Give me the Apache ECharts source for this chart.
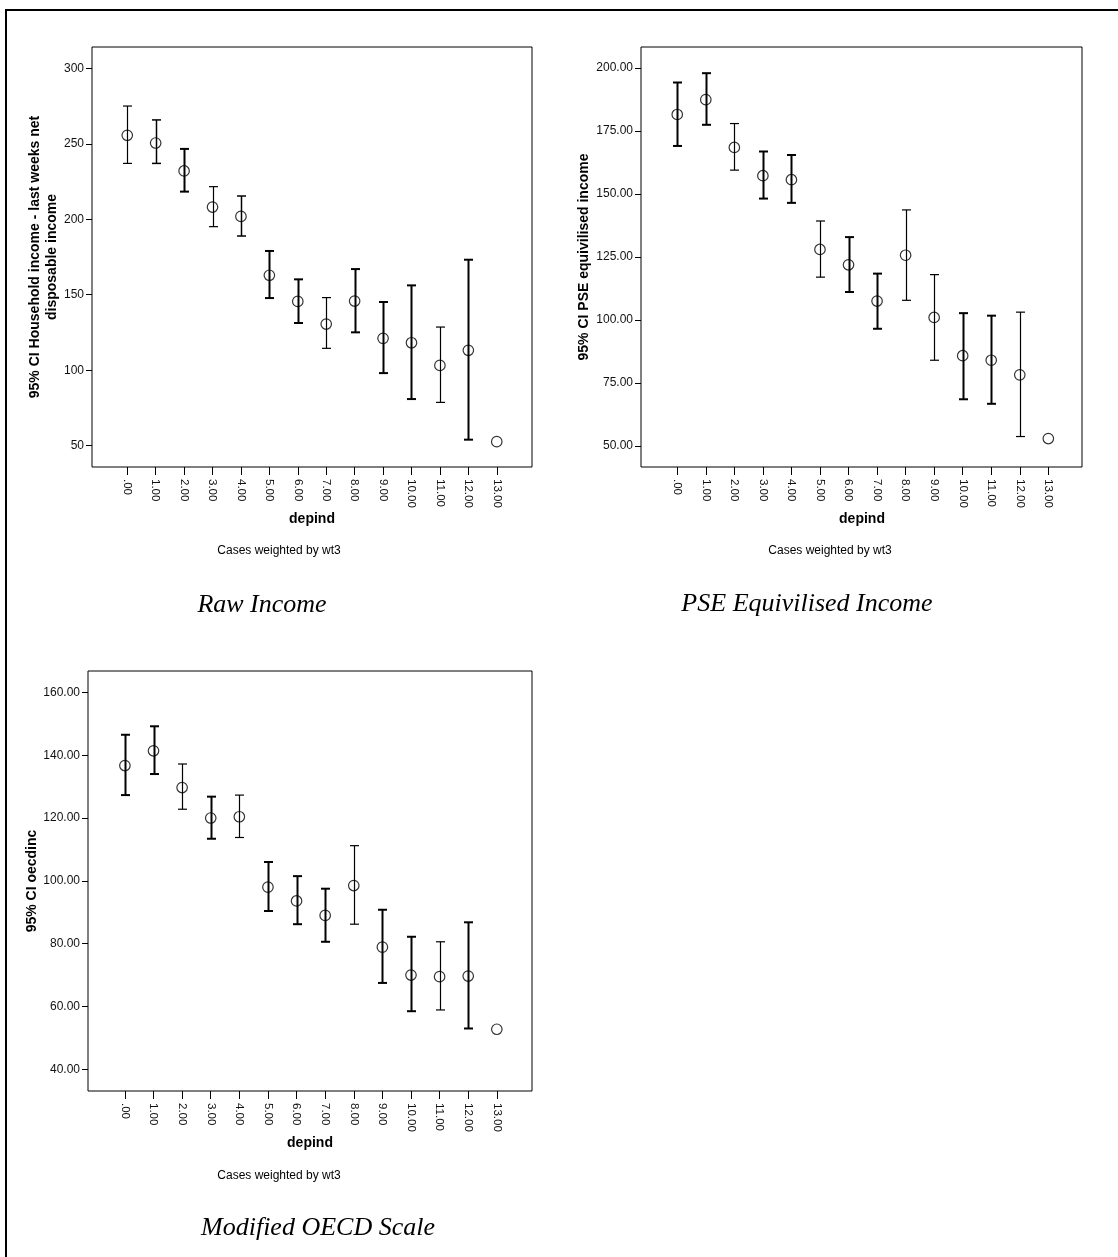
<!DOCTYPE html>
<html>
<head>
<meta charset="utf-8">
<script src="https://cdn.jsdelivr.net/npm/echarts@6/dist/echarts.min.js"></script>
<style>
html,body{margin:0;padding:0;background:#fff;}
#c{width:1118px;height:1257px;}
</style>
</head>
<body>
<div id="c"></div>
<script>
// ---- data ----
var depind = [0,1,2,3,4,5,6,7,8,9,10,11,12,13];
var tickLabels = ['.00','1.00','2.00','3.00','4.00','5.00','6.00','7.00','8.00','9.00','10.00','11.00','12.00','13.00'];

var rawMean  = [255.6, 250.5, 232.0, 208.1, 201.9, 162.9, 145.6, 130.6, 145.8, 121.1, 118.2, 103.2, 113.2, 52.7];
var rawLower = [237.0, 237.0, 218.3, 195.1, 188.9, 147.8, 131.3, 114.5, 125.1,  98.1,  80.9,  78.7,  54.0, null];
var rawUpper = [275.0, 265.8, 246.6, 221.6, 215.4, 179.0, 160.2, 148.1, 167.0, 145.2, 156.2, 128.6, 173.2, null];
var rawTicks = [50, 100, 150, 200, 250, 300];

var pseMean  = [181.6, 187.5, 168.5, 157.3, 155.7, 128.0, 121.9, 107.5, 125.7, 101.0, 85.8, 84.0, 78.2, 52.9];
var pseLower = [169.1, 177.5, 159.5, 148.2, 146.5, 117.0, 111.1,  96.5, 107.8,  84.0, 68.5, 66.7, 53.7, null];
var pseUpper = [194.3, 198.0, 178.0, 166.9, 165.5, 139.3, 132.9, 118.4, 143.7, 118.0, 102.7, 101.7, 103.1, null];
var pseTicks = [50, 75, 100, 125, 150, 175, 200];

var oecdMean  = [136.7, 141.4, 129.7, 120.0, 120.4, 98.0, 93.6, 89.0, 98.5, 78.9, 70.0, 69.5, 69.7, 52.75];
var oecdLower = [127.3, 134.0, 122.8, 113.4, 113.8, 90.4, 86.2, 80.6, 86.2, 67.5, 58.5, 58.9, 53.0, null];
var oecdUpper = [146.5, 149.2, 137.2, 126.8, 127.3, 106.0, 101.5, 97.5, 111.2, 90.8, 82.2, 80.6, 86.8, null];
var oecdTicks = [40, 60, 80, 100, 120, 140, 160];

// ---- styles (stroke weights of the error bars as rendered) ----
var rawW  = [1.2,1.5,2,1.2,1.5,2,2,1.2,2,2,2,1.2,2];
var pseW  = [2,2,1.2,2,2,1.2,2,2,1.2,1.2,2,2,1.2];
var oecdW = [2,2,1.2,2,1.2,2,2,2,1.2,2,2,1.2,2];

var FONT = 'Liberation Sans, Arial, sans-serif';
var SERIF = 'Liberation Serif, Times New Roman, serif';

function barData(lo, hi) {
  var out = [];
  for (var i = 0; i < depind.length; i++) {
    if (lo[i] != null && hi[i] != null) out.push([depind[i], lo[i], hi[i]]);
  }
  return out;
}
function meanData(m) {
  return depind.map(function (d, i) { return [d, m[i]]; });
}
function makeRender(widths) {
  return function (params, api) {
    var x = api.value(0), lo = api.value(1), hi = api.value(2);
    var a = api.coord([x, lo]), b = api.coord([x, hi]);
    var w = widths[params.dataIndex] || 1.2;
    var st = { stroke: '#000', lineWidth: w };
    var cx = Math.round(a[0]) + 0.5;
    return {
      type: 'group',
      children: [
        { type: 'line', shape: { x1: cx, y1: a[1], x2: cx, y2: b[1] }, style: st },
        { type: 'line', shape: { x1: cx - 4.5, y1: a[1], x2: cx + 4.5, y2: a[1] }, style: st },
        { type: 'line', shape: { x1: cx - 4.5, y1: b[1], x2: cx + 4.5, y2: b[1] }, style: st }
      ]
    };
  };
}

var grids = [
  { left: 92, top: 47, width: 440, height: 420 },
  { left: 641, top: 47, width: 441, height: 420 },
  { left: 88, top: 671, width: 444, height: 420 }
];
grids.forEach(function (g) {
  g.show = true; g.borderColor = '#000'; g.borderWidth = 1; g.backgroundColor = '#fff';
});

function xAxis(gi, min, max) {
  return {
    type: 'value', gridIndex: gi, min: min, max: max, position: 'bottom',
    axisLine: { show: false, onZero: false },
    splitLine: { show: false },
    axisTick: { show: true, customValues: depind, length: 8, lineStyle: { color: '#000', width: 1 } },
    axisLabel: {
      customValues: depind, rotate: -90, margin: 12,
      fontFamily: FONT, fontSize: 11.5, color: '#111',
      formatter: function (v) { return tickLabels[Math.round(v)]; }
    }
  };
}
function yAxis(gi, min, max, ticks, dec) {
  return {
    type: 'value', gridIndex: gi, min: min, max: max, position: 'left',
    axisLine: { show: false, onZero: false },
    splitLine: { show: false },
    axisTick: { show: true, customValues: ticks, length: 6, lineStyle: { color: '#000', width: 1 } },
    axisLabel: {
      customValues: ticks, margin: 8,
      fontFamily: FONT, fontSize: 12, color: '#111',
      formatter: function (v) { return dec ? v.toFixed(2) : String(v); }
    }
  };
}

function seriesFor(gi, lo, hi, m, widths) {
  return [
    {
      type: 'custom', xAxisIndex: gi, yAxisIndex: gi,
      renderItem: makeRender(widths),
      encode: { x: 0, y: [1, 2] },
      data: barData(lo, hi), silent: true, z: 2
    },
    {
      type: 'scatter', xAxisIndex: gi, yAxisIndex: gi,
      data: meanData(m), symbol: 'circle', symbolSize: 10.5,
      itemStyle: { color: 'rgba(0,0,0,0)', borderColor: '#000', borderWidth: 1.2 },
      silent: true, z: 3
    }
  ];
}

function txt(x, y, text, size, weight, family, style, rot, lh) {
  return {
    type: 'text', x: x, y: y, rotation: rot || 0, silent: true,
    style: {
      text: text, fontSize: size, fontWeight: weight || 'normal', fontFamily: family,
      fontStyle: style || 'normal', fill: '#000', align: 'center', verticalAlign: 'middle',
      lineHeight: lh || Math.round(size * 1.2)
    }
  };
}

var graphics = [
  { type: 'line', silent: true, shape: { x1: 5, y1: 10, x2: 1118, y2: 10 }, style: { stroke: '#000', lineWidth: 2 } },
  { type: 'line', silent: true, shape: { x1: 6, y1: 9, x2: 6, y2: 1257 }, style: { stroke: '#000', lineWidth: 2 } },
  // y-axis titles
  txt(43.5, 257, '95% CI Household income - last weeks net\ndisposable income', 14, 'bold', FONT, 'normal', Math.PI / 2, 17),
  txt(584, 257, '95% CI PSE equivilised income', 14, 'bold', FONT, 'normal', Math.PI / 2),
  txt(32, 881, '95% CI oecdinc', 14, 'bold', FONT, 'normal', Math.PI / 2),
  // x-axis titles
  txt(312, 519, 'depind', 14, 'bold', FONT),
  txt(862, 519, 'depind', 14, 'bold', FONT),
  txt(310, 1143, 'depind', 14, 'bold', FONT),
  // footnotes
  txt(279, 551, 'Cases weighted by wt3', 12, 'normal', FONT),
  txt(830, 551, 'Cases weighted by wt3', 12, 'normal', FONT),
  txt(279, 1176, 'Cases weighted by wt3', 12, 'normal', FONT),
  // captions
  txt(262, 605, 'Raw Income', 26, 'normal', SERIF, 'italic'),
  txt(807, 604, 'PSE Equivilised Income', 26, 'normal', SERIF, 'italic'),
  txt(318, 1228, 'Modified OECD Scale', 26, 'normal', SERIF, 'italic')
];

var chart = echarts.init(document.getElementById('c'), null, { renderer: 'canvas' });
chart.setOption({
  backgroundColor: '#fff',
  animation: false,
  grid: grids,
  xAxis: [xAxis(0, -1.24, 14.24), xAxis(1, -1.27, 14.18), xAxis(2, -1.29, 14.23)],
  yAxis: [
    yAxis(0, 35.9, 314.1, rawTicks, false),
    yAxis(1, 41.6, 208.4, pseTicks, true),
    yAxis(2, 33.1, 166.8, oecdTicks, true)
  ],
  series: [].concat(
    seriesFor(0, rawLower, rawUpper, rawMean, rawW),
    seriesFor(1, pseLower, pseUpper, pseMean, pseW),
    seriesFor(2, oecdLower, oecdUpper, oecdMean, oecdW)
  ),
  graphic: graphics
});
</script>
</body>
</html>
